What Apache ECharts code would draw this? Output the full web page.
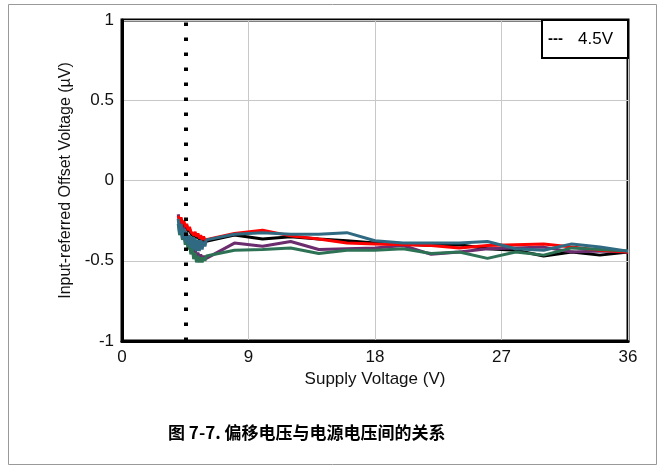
<!DOCTYPE html>
<html><head><meta charset="utf-8">
<script src="https://cdn.jsdelivr.net/npm/echarts@6/dist/echarts.min.js"></script>
<style>html,body{margin:0;padding:0;background:#fff;}#c{width:665px;height:472px;}</style>
</head><body><div id="c"></div>
<script>
var xNoisy = [4.0,4.1,4.2,4.3,4.4,4.5,4.6,4.7,4.8,4.9,5.0,5.1,5.2,5.3,5.4,5.5,5.6,5.7,5.8,5.9,6.0];
var xMain = [8,10,12,14,16,18,20,22,24,26,28,30,32,34,36];
var xTicks = ['0','9','18','27','36'];
var yTicks = ['-1','-0.5','0','0.5','1'];
var markerV = 4.5;

var blackNoisy = [-0.24,-0.27,-0.25,-0.29,-0.27,-0.30,-0.28,-0.32,-0.30,-0.33,-0.32,-0.35,-0.33,-0.36,-0.34,-0.37,-0.35,-0.38,-0.36,-0.38,-0.38];
var blackMain = [-0.34,-0.365,-0.35,-0.365,-0.375,-0.39,-0.395,-0.405,-0.40,-0.425,-0.435,-0.47,-0.445,-0.465,-0.445];
var redNoisy = [-0.22,-0.25,-0.23,-0.27,-0.25,-0.29,-0.27,-0.31,-0.29,-0.32,-0.31,-0.34,-0.32,-0.35,-0.33,-0.36,-0.34,-0.37,-0.35,-0.37,-0.36];
var redMain = [-0.33,-0.31,-0.345,-0.365,-0.39,-0.395,-0.40,-0.405,-0.42,-0.405,-0.40,-0.395,-0.415,-0.435,-0.445];
var tealNoisy = [-0.24,-0.33,-0.27,-0.36,-0.30,-0.38,-0.32,-0.40,-0.34,-0.42,-0.35,-0.43,-0.36,-0.44,-0.37,-0.44,-0.37,-0.43,-0.38,-0.41,-0.37];
var tealMain = [-0.335,-0.325,-0.335,-0.335,-0.325,-0.375,-0.39,-0.39,-0.39,-0.38,-0.425,-0.435,-0.395,-0.415,-0.44];
var purpleNoisy = [-0.21,-0.27,-0.25,-0.31,-0.29,-0.35,-0.33,-0.39,-0.37,-0.42,-0.40,-0.45,-0.43,-0.47,-0.45,-0.48,-0.46,-0.49,-0.47,-0.49,-0.48];
var purpleMain = [-0.39,-0.41,-0.38,-0.43,-0.425,-0.42,-0.405,-0.46,-0.445,-0.425,-0.42,-0.415,-0.445,-0.44,-0.445];
var greenNoisy = [-0.27,-0.34,-0.30,-0.37,-0.33,-0.40,-0.36,-0.43,-0.39,-0.46,-0.42,-0.49,-0.45,-0.51,-0.47,-0.51,-0.48,-0.51,-0.48,-0.50,-0.47];
var greenMain = [-0.435,-0.43,-0.42,-0.455,-0.435,-0.435,-0.425,-0.455,-0.445,-0.485,-0.445,-0.465,-0.42,-0.43,-0.44];

function pts(n, m){
  var out = [];
  for (var i=0;i<xNoisy.length;i++) out.push([xNoisy[i], n[i]]);
  for (var j=0;j<xMain.length;j++) out.push([xMain[j], m[j]]);
  return out;
}
var FONT = '"Liberation Sans", Arial, sans-serif';
function ser(name, color, n, m, extra){
  var s = {name:name, type:'line', data:pts(n,m), showSymbol:false, symbol:'none',
    lineStyle:{color:color, width:3}, itemStyle:{color:color}, animation:false, z:3};
  if (extra) for (var k in extra) s[k]=extra[k];
  return s;
}
var chart = echarts.init(document.getElementById('c'), null, {renderer:'canvas'});
chart.setOption({
  animation:false,
  backgroundColor:'#fff',
  grid:{left:122, right:37, top:20, bottom:131, show:true, borderColor:'#000', borderWidth:3, backgroundColor:'transparent'},
  xAxis:{type:'value', min:0, max:36, interval:9,
    name:'Supply Voltage (V)', nameLocation:'middle', nameGap:24,
    nameTextStyle:{fontFamily:FONT, fontSize:17, color:'#111'},
    axisLine:{show:true, onZero:false, lineStyle:{color:'#000', width:3}},
    axisTick:{show:false},
    axisLabel:{fontFamily:FONT, fontSize:17, color:'#111', margin:8,
      formatter:function(v){ var i = Math.round(v/9); return xTicks[i]!==undefined?xTicks[i]:''; }},
    splitLine:{show:true, lineStyle:{color:'#c8c8c8', width:1}}
  },
  yAxis:{type:'value', min:-1, max:1, interval:0.5,
    name:'Input-referred Offset Voltage (\u00b5V)', nameLocation:'middle', nameGap:48, nameRotate:90,
    nameMoveOverlap:false,
    nameTextStyle:{fontFamily:FONT, fontSize:16, color:'#111'},
    axisLine:{show:true, onZero:false, lineStyle:{color:'#000', width:3}},
    axisTick:{show:false},
    axisLabel:{fontFamily:FONT, fontSize:17, color:'#111', margin:8,
      formatter:function(v){ var i = Math.round((v+1)/0.5); return yTicks[i]!==undefined?yTicks[i]:''; }},
    splitLine:{show:true, lineStyle:{color:'#c8c8c8', width:1}}
  },
  series:[
    ser('black','#000000',blackNoisy,blackMain,{markLine:{silent:true, symbol:'none', animation:false,
      label:{show:false}, lineStyle:{color:'#000', width:4, type:[3.5,11.5]},
      data:[{xAxis:markerV}]}}),
    ser('purple','#6b2d6e',purpleNoisy,purpleMain),
    ser('red','#ff0000',redNoisy,redMain),
    ser('green','#2d7255',greenNoisy,greenMain),
    ser('teal','#2f6a82',tealNoisy,tealMain)
  ],
  graphic:[
    {type:'rect', shape:{x:8.5, y:4.5, width:648, height:460}, style:{fill:'none', stroke:'#999', lineWidth:1}, z:0, silent:true},
    {type:'rect', shape:{x:542, y:20, width:86, height:38}, style:{fill:'#fff', stroke:'#000', lineWidth:2}, z:100},
    {type:'text', x:548, y:39, style:{text:'---', font:'bold 15px '+FONT, fill:'#000', textVerticalAlign:'middle'}, z:101},
    {type:'text', x:578, y:39, style:{text:'4.5V', font:'17px '+FONT, fill:'#000', textVerticalAlign:'middle'}, z:101},
    {type:'text', x:168, y:424, style:{text:'图 7-7. 偏移电压与电源电压间的关系', font:'bold 17px "Noto Sans CJK SC", sans-serif', fill:'#000'}, z:101}
  ]
});
</script>
</body></html>
